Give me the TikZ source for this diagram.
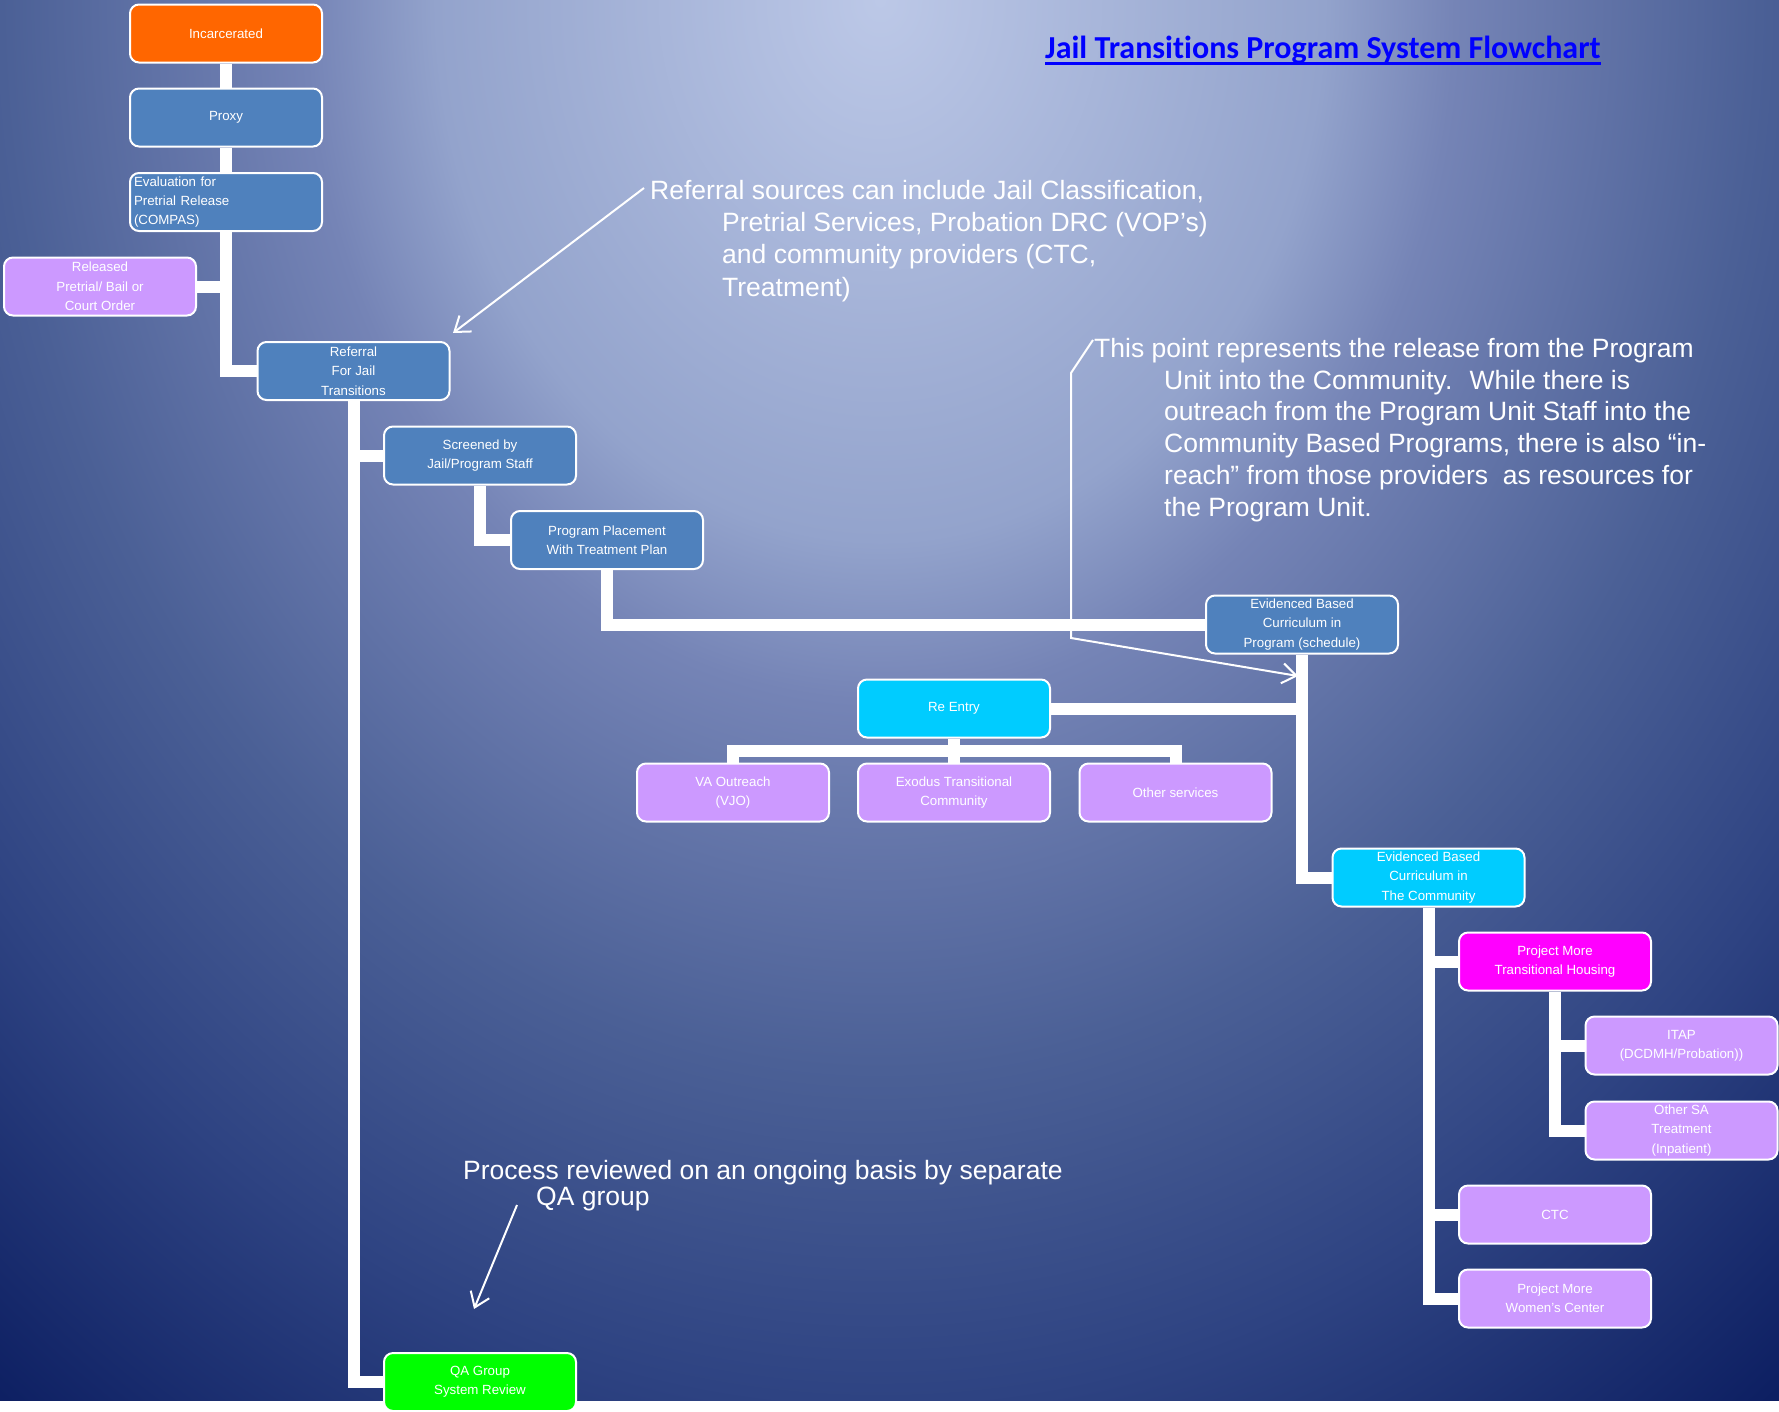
\documentclass[tikz,border=0pt]{standalone}
\usepackage{fontspec}
\setmainfont{Liberation Sans}
\newfontfamily\titlefont[Ligatures=CommonOff]{Carlito}
\usetikzlibrary{arrows.meta,calc}
\definecolor{bg0}{HTML}{BCC8E7}
\definecolor{bg1}{HTML}{93A3CC}
\definecolor{bg2}{HTML}{7584B6}
\definecolor{bg3}{HTML}{4B6096}
\definecolor{bg4}{HTML}{2E4382}
\definecolor{bg5}{HTML}{0D1F62}
\definecolor{orangebox}{HTML}{FF6600}
\definecolor{bluebox}{HTML}{4F81BD}
\definecolor{lavbox}{HTML}{CC99FF}
\definecolor{cyanbox}{HTML}{00CCFF}
\definecolor{magbox}{HTML}{FF00FF}
\definecolor{greenbox}{HTML}{00FF00}
\definecolor{titleblue}{HTML}{0000FF}
\pgfdeclareradialshading{bgshade}{\pgfpoint{0bp}{0bp}}{%
  color(0bp)=(bg0); color(9.65bp)=(bg1); color(12.5bp)=(bg2); color(19.1bp)=(bg3);
  color(25bp)=(bg4); color(31.6bp)=(bg5); color(50bp)=(bg5)}
\tikzset{
  box/.style={draw=white, line width=2pt, rounded corners=9pt, minimum width=192pt,
    minimum height=58pt, inner sep=2pt, text=white, align=center,
    font=\fontsize{13.3}{19.3}\selectfont},
  bluenode/.style={box, fill=bluebox},
  lavnode/.style={box, fill=lavbox},
  cyannode/.style={box, fill=cyanbox},
  conn/.style={draw=white, line width=12pt},
  note/.style={draw=white, line width=2pt, -{Straight Barb[length=14pt,width=20pt]}},
  notetext/.style={text=white, align=left, inner sep=0pt,
    font=\fontsize{26.5}{32.2}\selectfont},
}
\begin{document}
\begin{tikzpicture}[x=1pt,y=-1pt]
\useasboundingbox (0,0) rectangle (1779,1411);
\begin{scope}
  \clip (0,0) rectangle (1779,1411);
  \shade[shading=bgshade] (-270,-1400) rectangle (2030,1400);
\end{scope}

% title
\node[anchor=base west, inner sep=0pt, text=titleblue,
  font=\titlefont\bfseries\fontsize{32}{38}\selectfont] (title) at (1045,58)
  {Jail Transitions Program System Flowchart};
\draw[titleblue, line width=3pt] ($(title.base west)+(0,5)$) -- ($(title.base east)+(0,5)$);

% boxes
\node[box, fill=orangebox] (inc) at (226,33.5) {Incarcerated};
\node[bluenode] (proxy) at (226,117.5) {Proxy};
\node[bluenode, align=left, text width=184pt, inner xsep=4pt] (eval) at (226,202)
  {Evaluation for\\Pretrial Release\\(COMPAS)};
\node[lavnode] (released) at (100,286.5) {Released\\Pretrial/ Bail or\\Court Order};
\node[bluenode] (referral) at (353.5,371) {Referral\\For Jail\\Transitions};
\node[bluenode] (screened) at (480,455.5) {Screened by\\Jail/Program Staff};
\node[bluenode] (placement) at (607,540) {Program Placement\\With Treatment Plan};
\node[bluenode] (ebprog) at (1302,624.5) {Evidenced Based\\Curriculum in\\Program (schedule)};
\node[cyannode] (reentry) at (954,708.5) {Re Entry};
\node[lavnode] (va) at (733,792.5) {VA Outreach\\(VJO)};
\node[lavnode] (exodus) at (954,792.5) {Exodus Transitional\\Community};
\node[lavnode] (other) at (1175.5,792.5) {Other services};
\node[cyannode] (ebcomm) at (1428.5,877.5) {Evidenced Based\\Curriculum in\\The Community};
\node[box, fill=magbox] (pmth) at (1555,961.5) {Project More\\Transitional Housing};
\node[lavnode] (itap) at (1681.5,1045.5) {ITAP\\(DCDMH/Probation))};
\node[lavnode] (othersa) at (1681.5,1130.5) {Other SA\\Treatment\\(Inpatient)};
\node[lavnode] (ctc) at (1555,1214.5) {CTC};
\node[lavnode] (pmw) at (1555,1298.5) {Project More\\Women’s Center};
\node[box, fill=greenbox] (qa) at (480,1382) {QA Group\\System Review};

% connectors
\draw[conn] (inc.south) -- (proxy.north);
\draw[conn] (proxy.south) -- (eval.north);
\draw[conn] (eval.south) |- (referral.west);
\draw[conn] (released.east) -- (released.east -| eval.south);
\draw[conn] (referral.south) |- (qa.west);
\draw[conn] (screened.west) -- (screened.west -| referral.south);
\draw[conn] (screened.south) |- (placement.west);
\draw[conn] (placement.south) |- (ebprog.west);
\draw[conn] (ebprog.south) |- (ebcomm.west);
\draw[conn] (reentry.east) -- (reentry.east -| ebprog.south);
\draw[conn] (reentry.south) -- (exodus.north);
\draw[conn] (va.north) |- ($(reentry.south)!0.5!(exodus.north)$) -| (other.north);
\draw[conn] (ebcomm.south) |- (pmw.west);
\draw[conn] (pmth.west) -- (pmth.west -| ebcomm.south);
\draw[conn] (ctc.west) -- (ctc.west -| ebcomm.south);
\draw[conn] (pmth.south) |- (othersa.west);
\draw[conn] (itap.west) -- (itap.west -| pmth.south);

% annotations (base anchor = baseline of the last line)
\node[notetext, anchor=base west] (refnote) at (650,296.1)
  {Referral sources can include Jail Classification,\\
   \hspace*{72pt}Pretrial Services, Probation DRC (VOP’s)\\
   \hspace*{72pt}and community providers (CTC,\\
   \hspace*{72pt}Treatment)};
\node[notetext, anchor=base west, font=\fontsize{26.5}{31.7}\selectfont] (tpnote) at (1094,516)
  {This point represents the release from the Program\\
   \hspace*{70pt}Unit into the Community.~ While there is\\
   \hspace*{70pt}outreach from the Program Unit Staff into the\\
   \hspace*{70pt}Community Based Programs, there is also “in-\\
   \hspace*{70pt}reach” from those providers~ as resources for\\
   \hspace*{70pt}the Program Unit.};
\node[notetext, anchor=base west, font=\fontsize{26.5}{26}\selectfont] (qanote) at (463,1205.5)
  {Process reviewed on an ongoing basis by separate\\
   \hspace*{73pt}QA group};

\coordinate (refA) at (644,188);
\coordinate (refB) at (453,333);
\draw[note] (refA) -- (refB);

\coordinate (tpA) at (1093,340);
\coordinate (tpB) at (1071,373);
\coordinate (tpC) at (1071,638);
\coordinate (tpD) at (1298,676);
\draw[note] (tpA) -- (tpB) -- (tpC) -- (tpD);

\coordinate (qaA) at (517,1205);
\coordinate (qaB) at (474,1309);
\draw[note] (qaA) -- (qaB);
\end{tikzpicture}
\end{document}
